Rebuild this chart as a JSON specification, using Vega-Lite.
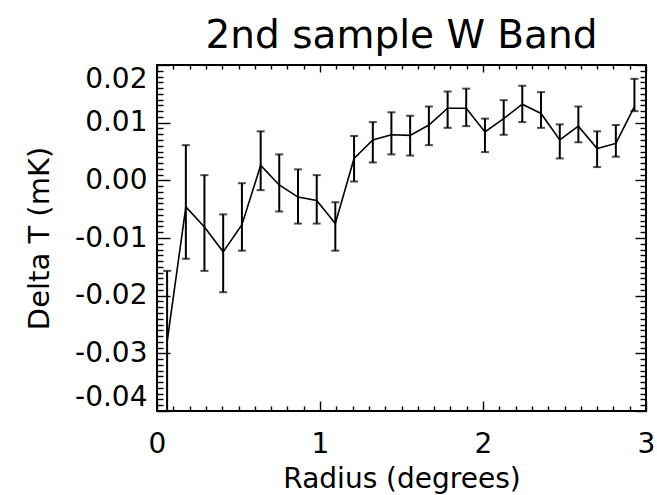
{
  "$schema": "https://vega.github.io/schema/vega-lite/v6.json",
  "autosize": "none",
  "padding": {"left": 157, "top": 65, "right": 11, "bottom": 84},
  "width": 489,
  "height": 346,
  "background": "white",
  "title": {"text": "2nd sample W Band", "fontSize": 39, "font": "DejaVu Sans", "fontWeight": "normal", "anchor": "middle", "frame": "group", "offset": 8, "color": "black"},
  "config": {
    "view": {"stroke": "black", "strokeWidth": 2},
    "axis": {"grid": false, "domain": false, "tickColor": "black", "labelColor": "black", "titleColor": "black", "labelFont": "DejaVu Sans", "titleFont": "DejaVu Sans", "labelFontSize": 28, "titleFontSize": 29, "titleFontWeight": "normal", "tickWidth": 1.4}
  },
  "data": {"values": [
    {"r": 0.062, "dt": -0.028, "lo": -0.045, "hi": -0.0157},
    {"r": 0.177, "dt": -0.0046, "lo": -0.0136, "hi": 0.0061},
    {"r": 0.291, "dt": -0.0081, "lo": -0.0157, "hi": 0.0009},
    {"r": 0.406, "dt": -0.0124, "lo": -0.0194, "hi": -0.0059},
    {"r": 0.521, "dt": -0.0077, "lo": -0.0122, "hi": -0.0005},
    {"r": 0.636, "dt": 0.0026, "lo": -0.0017, "hi": 0.0085},
    {"r": 0.750, "dt": -0.0008, "lo": -0.0054, "hi": 0.0045},
    {"r": 0.865, "dt": -0.0029, "lo": -0.0075, "hi": 0.0019},
    {"r": 0.980, "dt": -0.0035, "lo": -0.0075, "hi": 0.0009},
    {"r": 1.094, "dt": -0.0075, "lo": -0.0122, "hi": -0.0038},
    {"r": 1.209, "dt": 0.0038, "lo": -0.0002, "hi": 0.0077},
    {"r": 1.324, "dt": 0.0070, "lo": 0.0031, "hi": 0.0101},
    {"r": 1.438, "dt": 0.0079, "lo": 0.0045, "hi": 0.0118},
    {"r": 1.553, "dt": 0.0078, "lo": 0.0043, "hi": 0.0112},
    {"r": 1.668, "dt": 0.0096, "lo": 0.0061, "hi": 0.0128},
    {"r": 1.783, "dt": 0.0125, "lo": 0.0091, "hi": 0.0154},
    {"r": 1.897, "dt": 0.0125, "lo": 0.0094, "hi": 0.0159},
    {"r": 2.012, "dt": 0.0084, "lo": 0.0049, "hi": 0.0107},
    {"r": 2.127, "dt": 0.0107, "lo": 0.0079, "hi": 0.0139},
    {"r": 2.241, "dt": 0.0132, "lo": 0.0101, "hi": 0.0164},
    {"r": 2.356, "dt": 0.0116, "lo": 0.0091, "hi": 0.0153},
    {"r": 2.471, "dt": 0.0070, "lo": 0.0038, "hi": 0.0097},
    {"r": 2.585, "dt": 0.0094, "lo": 0.0066, "hi": 0.0128},
    {"r": 2.700, "dt": 0.0055, "lo": 0.0023, "hi": 0.0085},
    {"r": 2.815, "dt": 0.0064, "lo": 0.0041, "hi": 0.0096},
    {"r": 2.929, "dt": 0.0128, "lo": 0.0120, "hi": 0.0176}
  ]},
  "resolve": {"axis": {"x": "independent", "y": "independent"}},
  "layer": [
    {
      "mark": {"type": "line", "color": "black", "strokeWidth": 1.6, "clip": true},
      "encoding": {
        "x": {"field": "r", "type": "quantitative", "scale": {"domain": [0, 3], "nice": false, "zero": false},
          "axis": {"orient": "bottom", "title": "Radius (degrees)", "titleFontSize": 28, "values": [0, 1, 2, 3], "format": "d", "tickSize": -10, "labelPadding": 29, "labelFlush": false, "titlePadding": 7}},
        "y": {"field": "dt", "type": "quantitative", "scale": {"domain": [-0.04, 0.02], "nice": false, "zero": false},
          "axis": {"orient": "left", "title": "Delta T (mK)", "values": [-0.04, -0.03, -0.02, -0.01, 0, 0.01, 0.02], "format": ".2f", "labelExpr": "replace(datum.label, '\u2212', '-')", "tickSize": -13, "labelPadding": 23, "labelFlush": true, "titlePadding": 20}}
      }
    },
    {
      "mark": {"type": "rule", "color": "black", "strokeWidth": 2, "clip": true},
      "encoding": {
        "x": {"field": "r", "type": "quantitative",
          "axis": {"orient": "top", "title": null, "values": [0, 1, 2, 3], "labels": false, "tickSize": -7}},
        "y": {"field": "lo", "type": "quantitative",
          "axis": {"orient": "right", "title": null, "values": [-0.04, -0.03, -0.02, -0.01, 0, 0.01, 0.02], "labels": false, "tickSize": -11}},
        "y2": {"field": "hi"}
      }
    },
    {
      "mark": {"type": "tick", "color": "black", "orient": "horizontal", "size": 8, "thickness": 2, "clip": true},
      "encoding": {
        "x": {"field": "r", "type": "quantitative",
          "axis": {"orient": "bottom", "title": null, "labels": false, "tickSize": -5, "values": [0.1, 0.2, 0.3, 0.4, 0.5, 0.6, 0.7, 0.8, 0.9, 1.1, 1.2, 1.3, 1.4, 1.5, 1.6, 1.7, 1.8, 1.9, 2.1, 2.2, 2.3, 2.4, 2.5, 2.6, 2.7, 2.8, 2.9]}},
        "y": {"field": "hi", "type": "quantitative",
          "axis": {"orient": "left", "title": null, "labels": false, "tickSize": -6, "values": [-0.039, -0.038, -0.037, -0.036, -0.035, -0.034, -0.033, -0.032, -0.031, -0.029, -0.028, -0.027, -0.026, -0.025, -0.024, -0.023, -0.022, -0.021, -0.019, -0.018, -0.017, -0.016, -0.015, -0.014, -0.013, -0.012, -0.011, -0.009, -0.008, -0.007, -0.006, -0.005, -0.004, -0.003, -0.002, -0.001, 0.001, 0.002, 0.003, 0.004, 0.005, 0.006, 0.007, 0.008, 0.009, 0.011, 0.012, 0.013, 0.014, 0.015, 0.016, 0.017, 0.018, 0.019]}}
      }
    },
    {
      "mark": {"type": "tick", "color": "black", "orient": "horizontal", "size": 8, "thickness": 2, "clip": true},
      "encoding": {
        "x": {"field": "r", "type": "quantitative",
          "axis": {"orient": "top", "title": null, "labels": false, "tickSize": -4, "values": [0.1, 0.2, 0.3, 0.4, 0.5, 0.6, 0.7, 0.8, 0.9, 1.1, 1.2, 1.3, 1.4, 1.5, 1.6, 1.7, 1.8, 1.9, 2.1, 2.2, 2.3, 2.4, 2.5, 2.6, 2.7, 2.8, 2.9]}},
        "y": {"field": "lo", "type": "quantitative",
          "axis": {"orient": "right", "title": null, "labels": false, "tickSize": -6, "values": [-0.039, -0.038, -0.037, -0.036, -0.035, -0.034, -0.033, -0.032, -0.031, -0.029, -0.028, -0.027, -0.026, -0.025, -0.024, -0.023, -0.022, -0.021, -0.019, -0.018, -0.017, -0.016, -0.015, -0.014, -0.013, -0.012, -0.011, -0.009, -0.008, -0.007, -0.006, -0.005, -0.004, -0.003, -0.002, -0.001, 0.001, 0.002, 0.003, 0.004, 0.005, 0.006, 0.007, 0.008, 0.009, 0.011, 0.012, 0.013, 0.014, 0.015, 0.016, 0.017, 0.018, 0.019]}}
      }
    }
  ]
}
